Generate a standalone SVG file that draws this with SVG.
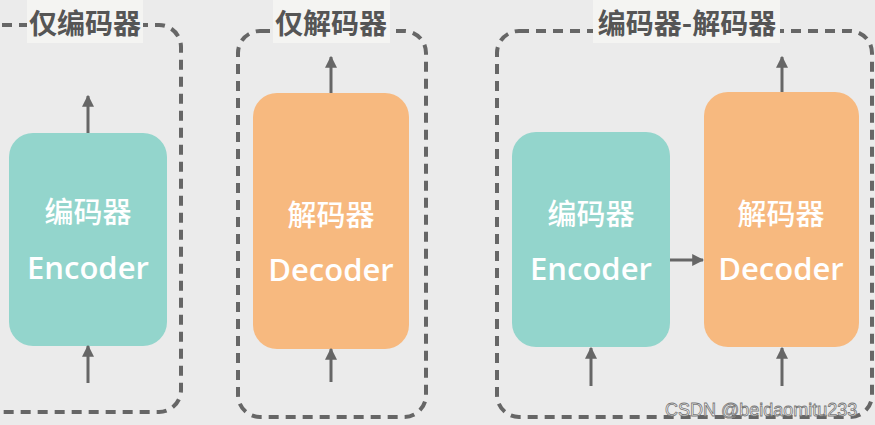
<svg xmlns="http://www.w3.org/2000/svg" width="875" height="425" viewBox="0 0 875 425">
<defs>
<marker id="ah" viewBox="0 0 10 10" refX="9" refY="5" markerWidth="4" markerHeight="4" markerUnits="strokeWidth" orient="auto">
<path d="M0,0 L10,5 L0,10 Z" fill="#666"/>
</marker>
<style>
.frame{fill:none;stroke:#666;stroke-width:4;stroke-dasharray:10 7}
.lblbg{fill:#f4f4f2}
.lbl{font-family:"Noto Sans CJK SC","Noto Sans",sans-serif;font-size:28px;font-weight:bold;fill:#555;text-anchor:middle}
.enc{fill:#93d5cc}
.dec{fill:#f7b97f}
.zh{font-family:"Noto Sans CJK SC",sans-serif;font-size:29px;font-weight:500;fill:#fff;text-anchor:middle}
.t{font-family:"Open Sans","Noto Sans",sans-serif;font-size:31px;font-weight:600;fill:#fff;text-anchor:middle}
.a{stroke:#666;stroke-width:3;fill:none;marker-end:url(#ah)}
.wm{font-family:"Liberation Sans",sans-serif;font-size:18px;fill:#fff;stroke:#777;stroke-width:0.8}
</style>
</defs>
<rect width="875" height="425" fill="#ebebeb"/>
<g id="panel-encoder-only">
<rect class="frame" x="-20" y="25" width="201" height="387" rx="22"/>
<rect class="lblbg" x="27" y="0" width="116" height="43"/>
<text class="lbl" x="85" y="34">仅编码器</text>
</g>
<g id="panel-decoder-only">
<rect class="frame" x="238" y="31" width="188" height="386" rx="22"/>
<rect class="lblbg" x="273" y="0" width="117" height="43"/>
<text class="lbl" x="331" y="34">仅解码器</text>
</g>
<g id="panel-encoder-decoder">
<rect class="frame" x="497" y="31" width="375" height="386" rx="22"/>
<rect class="lblbg" x="593" y="0" width="187" height="43"/>
<text class="lbl" x="687" y="34">编码器-解码器</text>
</g>
<g id="node-encoder-1">
<rect class="enc" x="9" y="133" width="158" height="213" rx="24"/>
<text class="zh" x="88" y="223">编码器</text>
<text class="t" x="88" y="279">Encoder</text>
</g>
<g id="node-decoder-2">
<rect class="dec" x="253" y="93" width="156" height="256" rx="24"/>
<text class="zh" x="331" y="226">解码器</text>
<text class="t" x="331" y="281">Decoder</text>
</g>
<g id="node-encoder-3">
<rect class="enc" x="512" y="132" width="158" height="215" rx="24"/>
<text class="zh" x="591" y="225">编码器</text>
<text class="t" x="591" y="280">Encoder</text>
</g>
<g id="node-decoder-3">
<rect class="dec" x="704" y="92" width="155" height="255" rx="24"/>
<text class="zh" x="781" y="225">解码器</text>
<text class="t" x="781" y="280">Decoder</text>
</g>
<g id="connectors">
<line class="a" x1="88" y1="133" x2="88" y2="96"/>
<line class="a" x1="88" y1="383" x2="88" y2="346"/>
<line class="a" x1="331" y1="93" x2="331" y2="57"/>
<line class="a" x1="331" y1="382" x2="331" y2="349"/>
<line class="a" x1="782" y1="92" x2="782" y2="57"/>
<line class="a" x1="591" y1="386" x2="591" y2="348"/>
<line class="a" x1="782" y1="386" x2="782" y2="348"/>
<line class="a" x1="670" y1="260" x2="703" y2="260"/>
</g>
<text class="wm" x="665" y="416">CSDN @beidaomitu233</text>
</svg>
